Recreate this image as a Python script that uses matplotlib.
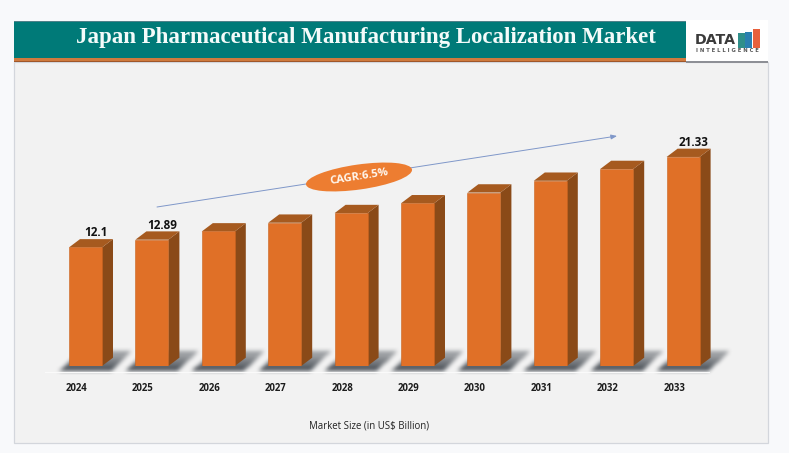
"""Japan Pharmaceutical Manufacturing Localization Market: pseudo-3D bar chart."""
import matplotlib
matplotlib.use("Agg")
import matplotlib.pyplot as plt
import numpy as np
from matplotlib.patches import Ellipse, Polygon, Rectangle

years = ["2024", "2025", "2026", "2027", "2028", "2029", "2030", "2031", "2032", "2033"]
market_size = [12.1, 12.89, 13.73, 14.62, 15.6, 16.6, 17.7, 18.9, 20.1, 21.33]
shown_labels = {"2024": "12.1", "2025": "12.89", "2033": "21.33"}

title = "Japan Pharmaceutical Manufacturing Localization Market"
x_title = "Market Size (in US$ Billion)"
cagr_text = "CAGR:6.5%"

W, H = 789, 453
FRONT = "#e07027"
SIDE = "#8a4a18"
TOP = "#a65a1f"
SANS = ["Open Sans", "DejaVu Sans"]

# pixels per category / per US$ bn
STEP_PX = 66.4
UNIT_PX = 9.8
BASE_PX = 366
CENTER0_PX = 85.5

fig = plt.figure(figsize=(W / 100, H / 100), dpi=100, facecolor="#f8f9fb")

# page furniture, in pixel coordinates
bg = fig.add_axes([0, 0, 1, 1])
bg.set_xlim(0, W)
bg.set_ylim(H, 0)
bg.axis("off")
bg.add_patch(Rectangle((14, 62), 754, 381, fc="#f2f2f2", ec="#d3d6dc", lw=0.9))
bg.add_patch(Rectangle((14, 21), 672, 37, fc="#007a78", ec="none"))
bg.add_patch(Rectangle((14, 20.5), 672, 1, fc="#4f8189", ec="none"))
bg.add_patch(Rectangle((14, 58), 672, 3.5, fc="#cf7a3e", ec="none"))
bg.add_patch(Rectangle((14, 61), 672, 1.2, fc="#a0572a", ec="none"))
bg.add_patch(Rectangle((686, 20), 82, 41, fc="white", ec="none"))
bg.add_patch(Rectangle((686, 61), 82, 1.5, fc="#8d8f95", ec="none"))
bg.text(366, 37.5, title, color="#f4fbfa", family=["Liberation Serif"], fontweight="bold",
        fontsize=16.5, ha="center", va="center")

# logo
bg.text(715, 40.5, "DATA", color="#3b3b3b", family=["DejaVu Sans"], fontweight="bold",
        fontsize=10.2, ha="center", va="center")
for x0, top, col in [(738, 33, "#2f8f8a"), (745.5, 32, "#2a7fb0"), (753, 29, "#e8603c")]:
    bg.add_patch(Rectangle((x0, top), 6.8, 47.5 - top, fc=col, ec="none"))
bg.text(727.5, 50.5, "I N T E L L I G E N C E", color="#555555", family=["DejaVu Sans"],
        fontsize=3.8, fontweight="bold", ha="center", va="center")

# soft floor shadows: rasterise the parallelograms, box-blur, darken toward the front
positions = np.arange(len(years))
yy, xx = np.mgrid[0:H, 0:W]
mask = np.zeros((H, W))
for x in positions:
    xl = CENTER0_PX + STEP_PX * x - 16.5
    # skewed band: left/right edges lean to the right going up
    lean = (370 - yy) * 1.05
    mask[(yy >= 351) & (yy <= 370) & (xx >= xl - 10 + lean) & (xx <= xl + 42 + lean)] = 1
kernel = np.ones(5) / 5
for _ in range(2):
    mask = np.apply_along_axis(lambda r: np.convolve(r, kernel, mode="same"), 1, mask)
    mask[340:380] = np.apply_along_axis(lambda c: np.convolve(c, kernel, mode="same"), 0, mask[340:380])
fade = np.clip((yy - 340) / 28, 0.55, 1)
rgba = np.zeros((H, W, 4))
rgba[..., :3] = np.array([0.29, 0.31, 0.34])
rgba[..., 3] = mask * fade * 0.95
bg.imshow(rgba, extent=(0, W, H, 0), aspect="auto", interpolation="bilinear", zorder=1)
bg.set_xlim(0, W)
bg.set_ylim(H, 0)

# floor strip under the bars
bg.add_patch(Rectangle((45, 372), 665, 1.2, fc="#fafafa", ec="none", zorder=2))

# data axes, placed so that the pixel scales above hold
left_px = CENTER0_PX - STEP_PX * 0.75
right_px = left_px + STEP_PX * 11
top_px = 90
ax = fig.add_axes([left_px / W, 1 - BASE_PX / H, (right_px - left_px) / W, (BASE_PX - top_px) / H])
ax.patch.set_alpha(0)
ax.set_xlim(-0.75, 10.25)
ax.set_ylim(0, (BASE_PX - top_px) / UNIT_PX)
for s in ax.spines.values():
    s.set_visible(False)
ax.set_yticks([])

bar_w = 33 / STEP_PX
dx = 11 / STEP_PX
dy = 8.3 / UNIT_PX

ax.bar(positions, market_size, width=bar_w, color=FRONT, edgecolor="#c9641f", linewidth=0.4, zorder=3)
for x, v in zip(positions, market_size):
    xr = x + bar_w / 2
    xl = x - bar_w / 2
    ax.add_patch(Polygon([(xr, 0), (xr + dx, dy), (xr + dx, v + dy), (xr, v)],
                         closed=True, fc=SIDE, ec="none", zorder=2))
    ax.add_patch(Polygon([(xl, v), (xl + dx, v + dy), (xr + dx, v + dy), (xr, v)],
                         closed=True, fc=TOP, ec="none", zorder=2))

for x, year, v in zip(positions, years, market_size):
    if year in shown_labels:
        ax.text(x + 10.5 / STEP_PX, v + 14.5 / UNIT_PX, shown_labels[year], ha="center", va="center",
                family=SANS, fontsize=8.4, fontweight="bold", color="#111111", zorder=5)

# year labels sit a little left of their bars in the original
ax.set_xticks(positions - 9 / STEP_PX, years, family=SANS, fontsize=6.9, fontweight="bold", color="#1c1c1c")
ax.tick_params(axis="x", length=0, pad=12.3)
ax.set_xlabel(x_title, family=SANS, fontsize=6.9, color="#222222")
ax.xaxis.set_label_coords((369 - left_px) / (right_px - left_px), -(420.5 - BASE_PX) / (BASE_PX - top_px))

# CAGR arrow and badge
bg_top = fig.add_axes([0, 0, 1, 1], zorder=5)
bg_top.set_xlim(0, W)
bg_top.set_ylim(H, 0)
bg_top.axis("off")
bg_top.annotate("", xy=(617, 136), xytext=(157, 207), zorder=2,
                arrowprops=dict(arrowstyle="-|>,head_length=0.35,head_width=0.14", color="#7f97c9", lw=0.7,
                                shrinkA=0, shrinkB=0))
# y axis is inverted here, so a negative angle tilts the badge upward to the right
bg_top.add_patch(Ellipse((359, 177), 107, 25, angle=-8, fc="#ed7d31", ec="none", zorder=4))
bg_top.text(359, 176.5, cagr_text, color="#fff8f0", family=SANS, fontsize=8, fontweight="bold",
            rotation=9, rotation_mode="anchor", ha="center", va="center", zorder=5)

fig.savefig("out.png", dpi=100, facecolor=fig.get_facecolor())
plt.close(fig)
